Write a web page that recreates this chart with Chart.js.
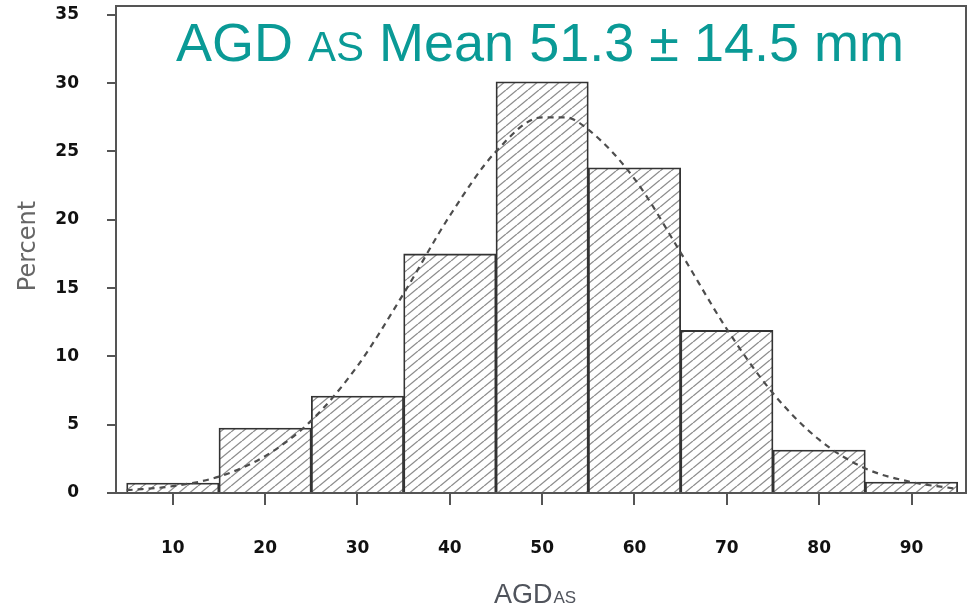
<!DOCTYPE html>
<html>
<head>
<meta charset="utf-8">
<script src="https://cdn.jsdelivr.net/npm/chart.js@4/dist/chart.umd.min.js"></script>
<style>
  html, body { margin: 0; padding: 0; background: #fff; }
  #wrap { width: 969px; height: 609px; }
</style>
</head>
<body>
<div id="wrap"><canvas id="histChart"></canvas></div>
<script>
// histogram bins (centre of each 10 mm bin) and percent of subjects
const binCenters = [10, 20, 30, 40, 50, 60, 70, 80, 90];
const percentValues = [0.73, 4.76, 7.1, 17.5, 30.1, 23.8, 11.9, 3.15, 0.8];

// fitted normal curve
const curveX = [5, 10, 15, 20, 25, 30, 35, 40, 45, 50, 52.5, 55, 60, 65, 70, 75, 80, 85, 90, 95];
const curveY = [0.2, 0.5, 1.2, 2.7, 5.3, 9.3, 14.6, 20.3, 25.0, 27.5, 27.5, 26.6, 23.0, 17.6, 12.0, 7.3, 3.9, 1.8, 0.8, 0.3];

// tick labels
const xTicks = [10, 20, 30, 40, 50, 60, 70, 80, 90];
const yTicks = [0, 5, 10, 15, 20, 25, 30, 35];

function makeHatch() {
    const w = 11, h = 9;
    const c = document.createElement('canvas');
    c.width = w; c.height = h;
    const g = c.getContext('2d');
    g.fillStyle = '#fff';
    g.fillRect(0, 0, w, h);
    g.strokeStyle = '#8c8c8c';
    g.lineWidth = 1.3;
    [-w, 0, w].forEach(dx => {
        g.beginPath();
        g.moveTo(dx, h);
        g.lineTo(dx + w, 0);
        g.stroke();
    });
    return g.createPattern(c, 'repeat');
}

// no extra space for edge labels, the frame is fixed
function noEdgePadding(s) {
    s.paddingTop = 0;
    s.paddingBottom = 0;
    s.paddingLeft = 0;
    s.paddingRight = 0;
}

const overlayText = {
    id: 'overlayText',
    afterDatasetsDraw(chart) {
        const ctx = chart.ctx;
        const a = chart.chartArea;
        ctx.save();
        // top and right side of the frame
        ctx.strokeStyle = '#555';
        ctx.lineWidth = 2;
        ctx.beginPath();
        ctx.moveTo(a.left, a.top);
        ctx.lineTo(a.right, a.top);
        ctx.lineTo(a.right, a.bottom);
        ctx.stroke();

        // title inside the plot
        ctx.fillStyle = '#0a9a96';
        ctx.textBaseline = 'alphabetic';
        let x = 176;
        const y = 61;
        ctx.font = '54px "Liberation Sans", Arial, sans-serif';
        ctx.fillText('AGD ', x, y);
        x += ctx.measureText('AGD ').width;
        ctx.font = '42px "Liberation Sans", Arial, sans-serif';
        ctx.fillText('AS', x, y);
        x += ctx.measureText('AS').width;
        ctx.font = '54px "Liberation Sans", Arial, sans-serif';
        ctx.fillText(' Mean 51.3 \u00b1 14.5 mm', x, y);

        // x axis title with subscript
        ctx.fillStyle = '#50545c';
        let ax = 494;
        ctx.font = '27px "Liberation Sans", Arial, sans-serif';
        ctx.fillText('AGD', ax, 603);
        ax += ctx.measureText('AGD').width + 1;
        ctx.font = '17px "Liberation Sans", Arial, sans-serif';
        ctx.fillText('AS', ax, 603);

        // y axis title
        ctx.translate(35, 246);
        ctx.rotate(-Math.PI / 2);
        ctx.textAlign = 'center';
        ctx.fillStyle = '#666';
        ctx.font = '24px "DejaVu Sans", sans-serif';
        ctx.fillText('Percent', 0, 0);
        ctx.restore();
    }
};

const tickFont = { family: '"DejaVu Sans", sans-serif', size: 17, weight: 'bold' };

new Chart(document.getElementById('histChart'), {
    data: {
        datasets: [
            {
                type: 'line',
                data: curveX.map((v, i) => ({ x: v, y: curveY[i] })),
                borderColor: '#4d4d4d',
                borderWidth: 2.2,
                borderDash: [6, 5],
                pointRadius: 0,
                cubicInterpolationMode: 'monotone',
                fill: false,
                order: 0
            },
            {
                type: 'bar',
                data: binCenters.map((v, i) => ({ x: v, y: percentValues[i] })),
                backgroundColor: makeHatch(),
                borderColor: '#333',
                borderWidth: 1.8,
                barPercentage: 1,
                categoryPercentage: 1,
                order: 1
            }
        ]
    },
    options: {
        responsive: true,
        maintainAspectRatio: false,
        animation: false,
        layout: { padding: { top: 6, right: 3, left: 0, bottom: 0 } },
        plugins: {
            legend: { display: false },
            tooltip: { enabled: false },
            title: { display: false }
        },
        scales: {
            x: {
                type: 'linear',
                min: 3.85,
                max: 95.9,
                offset: false,
                afterBuildTicks: s => { s.ticks = xTicks.map(v => ({ value: v })); },
                afterFit: s => { s.height = 116; noEdgePadding(s); },
                grid: { offset: false, drawOnChartArea: false, tickLength: 12, tickColor: '#555', lineWidth: 2 },
                border: { color: '#555', width: 2 },
                ticks: { font: tickFont, color: '#111', padding: 33, maxRotation: 0 }
            },
            y: {
                type: 'linear',
                min: 0,
                max: 35.65,
                afterBuildTicks: s => { s.ticks = yTicks.map(v => ({ value: v })); },
                afterFit: s => { s.width = 116; noEdgePadding(s); },
                grid: { drawOnChartArea: false, tickLength: 9, tickColor: '#555', lineWidth: 2 },
                border: { color: '#555', width: 2 },
                ticks: { font: tickFont, color: '#111', padding: 28 }
            }
        }
    },
    plugins: [overlayText]
});
</script>
</body>
</html>
